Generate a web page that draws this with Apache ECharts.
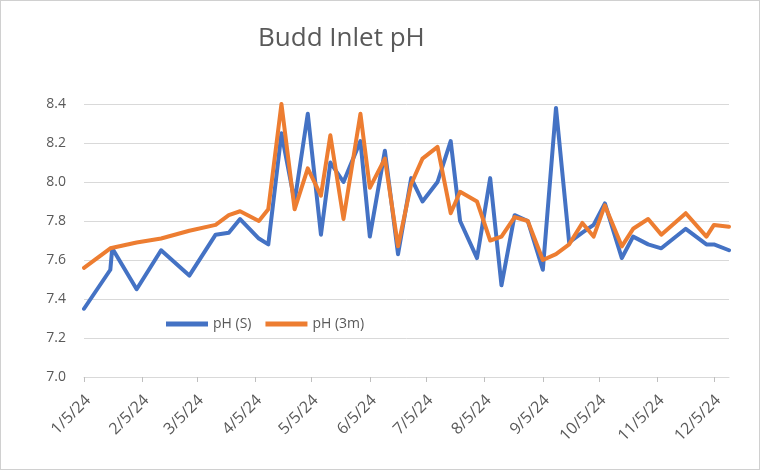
<!DOCTYPE html>
<html>
<head>
<meta charset="utf-8">
<script src="https://cdn.jsdelivr.net/npm/echarts@6/dist/echarts.min.js"></script>
<style>
html,body{margin:0;padding:0;background:#fff;}
#c{width:758px;height:468px;border:1px solid #d0d0d0;}
</style>
</head>
<body>
<div id="c"></div>
<script>
const dates = ['2024-01-05','2024-01-19','2024-01-20','2024-02-02','2024-02-15','2024-03-01','2024-03-15','2024-03-22','2024-03-28','2024-04-07','2024-04-12','2024-04-19','2024-04-26','2024-05-03','2024-05-10','2024-05-15','2024-05-22','2024-05-31','2024-06-05','2024-06-13','2024-06-20','2024-06-27','2024-07-03','2024-07-11','2024-07-18','2024-07-23','2024-08-01','2024-08-08','2024-08-14','2024-08-21','2024-08-28','2024-09-05','2024-09-12','2024-09-19','2024-09-26','2024-10-02','2024-10-08','2024-10-17','2024-10-23','2024-10-31','2024-11-07','2024-11-20','2024-12-01','2024-12-05','2024-12-13'];
const phS = [7.35,7.55,7.66,7.45,7.65,7.52,7.73,7.74,7.81,7.71,7.68,8.25,7.90,8.35,7.73,8.10,8.00,8.21,7.72,8.16,7.63,8.02,7.90,8.00,8.21,7.80,7.61,8.02,7.47,7.83,7.80,7.55,8.38,7.69,7.74,7.78,7.89,7.61,7.72,7.68,7.66,7.76,7.68,7.68,7.65];
const ph3m = [7.56,7.66,7.67,7.69,7.71,7.75,7.78,7.83,7.85,7.80,7.86,8.40,7.86,8.07,7.93,8.24,7.81,8.35,7.97,8.12,7.67,7.99,8.12,8.18,7.84,7.95,7.90,7.70,7.72,7.82,7.80,7.60,7.63,7.68,7.79,7.72,7.88,7.67,7.76,7.81,7.73,7.84,7.72,7.78,7.77];
const tickDates = ['2024-01-05','2024-02-05','2024-03-05','2024-04-05','2024-05-05','2024-06-05','2024-07-05','2024-08-05','2024-09-05','2024-10-05','2024-11-05','2024-12-05'];
const tickLabels = ['1/5/24','2/5/24','3/5/24','4/5/24','5/5/24','6/5/24','7/5/24','8/5/24','9/5/24','10/5/24','11/5/24','12/5/24'];
const yTicks = [7.0, 8.4, 0.2];

const base = Date.UTC(2024,0,5);
function dayOf(s){const p=s.split('-');return Math.round((Date.UTC(+p[0],+p[1]-1,+p[2])-base)/86400000);}
const xs = dates.map(dayOf);
const tickDays = tickDates.map(dayOf);
const labelMap = {};
tickDays.forEach((d,i)=>labelMap[d]=tickLabels[i]);

const chart = echarts.init(document.getElementById('c'));
const font = '"Open Sans", "Noto Sans", sans-serif';
chart.setOption({
  animation:false,
  backgroundColor:'#fff',
  title:{text:'Budd Inlet pH',left:252,top:20,textStyle:{fontFamily:font,fontSize:26,fontWeight:'normal',color:'#595959'}},
  legend:{left:160,top:311,icon:'rect',itemWidth:42,itemHeight:5,itemGap:14,
    textStyle:{fontFamily:font,fontSize:14,color:'#595959'},data:['pH (S)','pH (3m)']},
  grid:{left:83,right:30,top:103,bottom:92},
  xAxis:{type:'value',min:0,max:xs[xs.length-1],
    axisLine:{show:true,lineStyle:{color:'#d9d9d9',width:1}},
    axisTick:{show:true,customValues:tickDays,length:5,lineStyle:{color:'#bfbfbf'}},
    axisLabel:{customValues:tickDays,rotate:45,fontFamily:font,fontSize:16,color:'#595959',margin:25,
      padding:[0,-6,0,0],
      formatter:v=>labelMap[Math.round(v)]||''},
    splitLine:{show:false}},
  yAxis:{type:'value',min:yTicks[0],max:yTicks[1],interval:yTicks[2],
    axisLine:{show:false},axisTick:{show:false},
    axisLabel:{fontFamily:font,fontSize:14,color:'#595959',margin:18,formatter:v=>v.toFixed(1)},
    splitLine:{lineStyle:{color:'#d9d9d9',width:1}}},
  series:[
    {name:'pH (S)',type:'line',showSymbol:false,symbol:'none',data:xs.map((x,i)=>[x,phS[i]]),
      lineStyle:{color:'#4472C4',width:4,cap:'round',join:'round'},itemStyle:{color:'#4472C4'}},
    {name:'pH (3m)',type:'line',showSymbol:false,symbol:'none',data:xs.map((x,i)=>[x,ph3m[i]]),
      lineStyle:{color:'#ED7D31',width:4,cap:'round',join:'round'},itemStyle:{color:'#ED7D31'}}
  ]
});
</script>
</body>
</html>
